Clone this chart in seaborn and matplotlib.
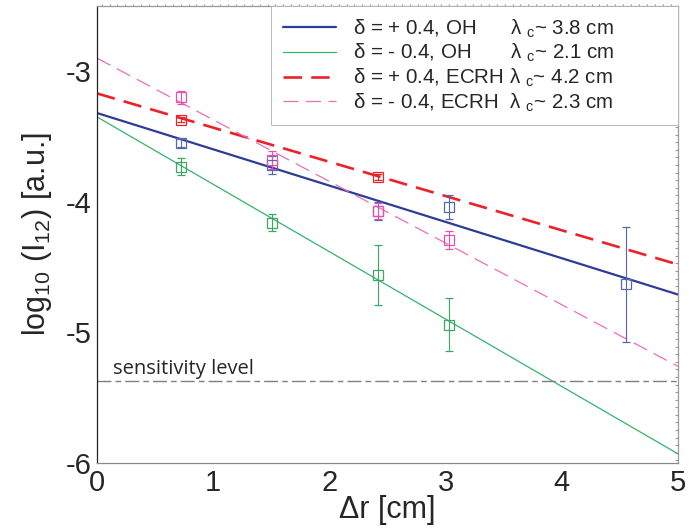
import numpy as np
import pandas as pd
import seaborn as sns
import matplotlib.pyplot as plt

sns.set_style("white")
plt.rcParams['font.family'] = ['Liberation Sans', 'DejaVu Sans']
plt.rcParams['mathtext.fontset'] = 'custom'
plt.rcParams['mathtext.rm'] = 'Liberation Sans'
plt.rcParams['mathtext.it'] = 'Liberation Sans:italic'
plt.rcParams['axes.unicode_minus'] = False

blue_x = [0.72, 1.51, 2.42, 3.03, 4.55]
blue_y = [-3.55, -3.72, -4.07, -4.04, -4.63]
blue_err = [0.03, 0.07, 0.07, 0.09, 0.44]

green_x = [0.72, 1.51, 2.42, 3.03]
green_y = [-3.73, -4.16, -4.56, -4.94]
green_err = [0.065, 0.065, 0.23, 0.20]

red_x = [0.72, 2.42]
red_y = [-3.37, -3.81]
red_err = [0.02, 0.02]

pink_x = [0.72, 1.51, 2.42, 3.03]
pink_y = [-3.20, -3.68, -4.07, -4.29]
pink_err = [0.05, 0.07, 0.06, 0.07]

# exponential fits, value at each end of the range
fit_x = [0, 5]
blue_fit = [-3.32, -4.71]
green_fit = [-3.35, -5.93]
red_fit = [-3.17, -4.48]
pink_fit = [-2.90, -5.26]

sens_level = -5.37

delta_labels = ["δ = + 0.4, OH", "δ = - 0.4, OH", "δ = + 0.4, ECRH", "δ = - 0.4, ECRH"]
lambda_labels = ["λ $_{\\mathrm{c}}$~ 3.8 cm", "λ $_{\\mathrm{c}}$~ 2.1 cm",
                 "λ $_{\\mathrm{c}}$~ 4.2 cm", "λ $_{\\mathrm{c}}$~ 2.3 cm"]

x_ticks = [0, 1, 2, 3, 4, 5]
y_ticks = [-6, -5, -4, -3]
y_minor = [-5.5, -4.5, -3.5]

fig = plt.figure(figsize=(6.89, 5.29), dpi=100)
ax = fig.add_axes([0.1408, 0.1248, 0.8432, 0.864])

series = [
    (blue_x, blue_y, blue_err, blue_fit, '#2d3c97', '#5665b3', 1.6, '-'),
    (green_x, green_y, green_err, green_fit, '#35b26c', '#3aa862', 0.9, '-'),
    (red_x, red_y, red_err, red_fit, '#ec2227', '#e8262a', 1.9, (0, (7, 3.5))),
    (pink_x, pink_y, pink_err, pink_fit, '#ef6cb8', '#e552aa', 0.9, (0, (12, 6))),
]

handles = []
for xs, ys, es, fit, lc, mc, lw, ls in series:
    sns.lineplot(x=fit_x, y=fit, color=lc, linewidth=lw, linestyle=ls, ax=ax)
    handles.append(ax.lines[-1])
    ax.errorbar(xs, ys, yerr=es, fmt='s', ms=7, mfc='none', mec=mc, mew=0.9,
                ecolor=mc, elinewidth=0.8, capsize=3, capthick=0.8, zorder=3)

ax.axhline(sens_level, color='#7f7f7f', lw=1.0, linestyle=(0, (10, 3, 4, 3)))
ax.text(0.14, sens_level + 0.05, "sensitivity level", fontsize=14.5,
        family=['Open Sans', 'DejaVu Sans'], va='baseline')

ax.set_xlim(0, 5)
ax.set_ylim(-6, -2.5)
ax.set_xticks(x_ticks)
ax.set_xticklabels([str(t) for t in x_ticks])
ax.set_yticks(y_ticks)
ax.set_yticklabels([str(t) for t in y_ticks])
ax.set_yticks(y_minor, minor=True)
ax.tick_params(axis='both', which='both', direction='in', length=5, width=0.8,
               labelsize=21, color='#333333')
ax.tick_params(axis='y', pad=4)
ax.tick_params(axis='x', pad=4)

ax.spines['left'].set_color('#222222')
ax.spines['bottom'].set_color('#8a8a8a')
ax.spines['top'].set_color('#9a9a9a')
ax.spines['right'].set_color('#9a9a9a')
for s in ax.spines.values():
    s.set_linewidth(0.9)

top = ax.secondary_xaxis('top')
top.set_xticks(np.arange(0.04, 5, 0.068))
top.tick_params(direction='out', length=1.5, width=0.8, color='#999999', labeltop=False)
top.spines['top'].set_visible(False)
right = ax.secondary_yaxis('right')
right.set_yticks(np.arange(-5.98, -2.5, 0.058))
right.tick_params(direction='in', length=2.5, width=0.8, color='#999999', labelright=False)
right.spines['right'].set_visible(False)

ax.set_xlabel("Δr [cm]", fontsize=22, labelpad=-1)
ax.set_ylabel("log$_{10}$ (I$_{12}$) [a.u.]", fontsize=22, labelpad=8)

# pad the δ part with spaces so the λ column lines up
renderer = fig.canvas.get_renderer()
leg_fs = 14.8


def text_width(s):
    t = fig.text(0, 0, s, fontsize=leg_fs)
    w = t.get_window_extent(renderer).width
    t.remove()
    return w


space_w = text_width("a a") - text_width("aa")
widths = [text_width(s) for s in delta_labels]
target = max(widths) + space_w * 1.3
labels = []
for s, w, lam in zip(delta_labels, widths, lambda_labels):
    n = max(1, int(round((target - w) / space_w)))
    labels.append(s + " " * n + lam + " " * 10)

leg = ax.legend(handles, labels, loc='upper right', borderaxespad=0, frameon=True,
                fancybox=False, edgecolor='#b0b0b0', framealpha=1, fontsize=leg_fs,
                handlelength=2.6, handletextpad=0.8, labelspacing=0.12, borderpad=0.55)
leg.get_frame().set_linewidth(0.6)

fig.savefig("out.png", dpi=100)
